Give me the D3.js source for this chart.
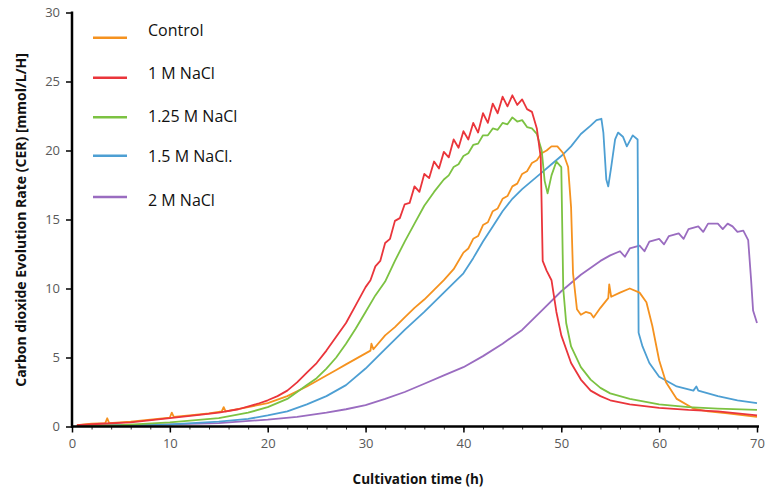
<!DOCTYPE html>
<html>
<head>
<meta charset="utf-8">
<script src="https://d3js.org/d3.v7.min.js"></script>
<style>
  html, body { margin: 0; padding: 0; background: #fff; }
  svg { display: block; font-family: "Open Sans", "Liberation Sans", sans-serif; }
</style>
</head>
<body>
<svg id="chart" width="773" height="493"></svg>
<script>
// ---- data ----
const seriesNames = ['Control', '1 M NaCl', '1.25 M NaCl', '1.5 M NaCl.', '2 M NaCl'];
const seriesColors = ['#f5921f', '#ea353b', '#7cc242', '#4d9fd3', '#9a6cc0'];

const xTicks = [0, 10, 20, 30, 40, 50, 60, 70];
const yTicks = [0, 5, 10, 15, 20, 25, 30];

// [hours, CER]
const control = [
  [0.5, 0.1], [2, 0.2], [3.4, 0.25], [3.6, 0.6], [3.8, 0.25], [6, 0.35], [8, 0.5], [10, 0.65],
  [10.2, 1.0], [10.4, 0.7], [12, 0.8], [14, 0.95], [15.3, 1.1], [15.5, 1.4], [15.7, 1.1],
  [18, 1.4], [20, 1.7], [22, 2.2], [24, 2.9], [26, 3.7], [27, 4.1], [28, 4.5], [29, 4.9],
  [30, 5.3], [30.5, 5.5], [30.6, 6.0], [30.8, 5.6], [32, 6.6], [33, 7.2], [34, 7.9], [35, 8.6],
  [36, 9.2], [37, 9.9], [38, 10.6], [39, 11.4], [40, 12.6], [40.5, 12.9], [41, 13.6], [41.5, 13.8],
  [42, 14.6], [42.5, 14.8], [43, 15.6], [43.5, 15.8], [44, 16.5], [44.5, 16.7], [45, 17.4],
  [45.5, 17.6], [46, 18.3], [46.5, 18.5], [47, 19.1], [47.5, 19.3], [48, 19.8], [48.5, 20.0],
  [49, 20.3], [49.6, 20.3], [50.2, 19.8], [50.7, 18.8], [51, 15.9], [51.2, 11.1], [51.6, 8.5],
  [52, 8.1], [52.5, 8.3], [53, 8.2], [53.3, 7.9], [54, 8.6], [54.8, 9.3], [54.9, 10.3],
  [55.1, 9.4], [56, 9.7], [57, 10.0], [58, 9.7], [58.7, 9.0], [59.3, 7.3], [60, 4.8],
  [60.7, 3.2], [61.8, 2.0], [63.5, 1.3], [65, 1.1], [67, 0.95], [70, 0.7]
];

const nacl1 = [
  [0.5, 0.1], [3, 0.2], [6, 0.3], [10, 0.6], [13, 0.85], [15, 1.0], [17, 1.25], [19, 1.65],
  [20, 1.9], [21, 2.2], [22, 2.6], [23, 3.2], [24, 3.9], [25, 4.6], [26, 5.5], [27, 6.5],
  [28, 7.5], [29, 8.8], [30, 10.1], [30.5, 10.6], [31, 11.6], [31.5, 12.0], [32, 13.3],
  [32.5, 13.6], [33, 14.9], [33.5, 15.1], [34, 16.1], [34.5, 16.2], [35, 17.4], [35.5, 17.0],
  [36, 18.3], [36.5, 18.0], [37, 19.2], [37.5, 18.7], [38, 19.9], [38.5, 19.5], [39, 20.8],
  [39.5, 20.2], [40, 21.4], [40.5, 20.8], [41, 22.0], [41.5, 21.3], [42, 22.7], [42.5, 22.0],
  [43, 23.4], [43.5, 22.7], [44, 23.9], [44.5, 23.2], [45, 24.0], [45.5, 23.3], [46, 23.7],
  [46.5, 23.0], [47, 22.8], [47.5, 21.6], [47.9, 19.5], [48.1, 12.0], [48.5, 11.3],
  [49, 10.6], [49.5, 8.3], [50, 6.6], [51, 4.6], [52, 3.4], [53, 2.6], [54, 2.2], [55, 1.9],
  [57, 1.6], [60, 1.35], [63, 1.2], [66, 1.1], [70, 0.8]
];

const nacl125 = [
  [0.5, 0.05], [5, 0.1], [10, 0.3], [15, 0.6], [18, 1.0], [20, 1.4], [22, 2.0], [23, 2.5],
  [24, 3.0], [25, 3.5], [26, 4.2], [27, 5.0], [28, 6.0], [29, 7.1], [30, 8.3], [31, 9.5],
  [32, 10.5], [33, 12.0], [34, 13.4], [35, 14.7], [36, 16.0], [37, 17.0], [38, 17.9],
  [38.5, 18.2], [39, 18.8], [39.5, 19.0], [40, 19.6], [40.5, 19.8], [41, 20.4], [41.5, 20.5],
  [42, 21.1], [42.5, 21.1], [43, 21.6], [43.5, 21.5], [44, 22.0], [44.5, 21.9], [45, 22.4],
  [45.5, 22.1], [46, 22.2], [46.5, 21.7], [47, 21.6], [47.5, 21.2], [48, 20.0], [48.3, 17.8],
  [48.6, 16.9], [49, 18.2], [49.5, 19.2], [50, 18.8], [50.2, 10.0], [50.5, 7.5], [51, 5.8],
  [52, 4.3], [53, 3.4], [54, 2.8], [55, 2.4], [57, 2.0], [60, 1.6], [63, 1.4], [66, 1.3],
  [70, 1.2]
];

const nacl15 = [
  [0.5, 0.05], [5, 0.1], [10, 0.15], [15, 0.35], [18, 0.55], [20, 0.8], [22, 1.1], [24, 1.6],
  [26, 2.2], [28, 3.0], [30, 4.2], [32, 5.6], [34, 7.0], [36, 8.3], [38, 9.7], [40, 11.1],
  [41, 12.2], [42, 13.4], [43, 14.5], [44, 15.6], [45, 16.5], [46, 17.2], [47, 17.8],
  [48, 18.4], [49, 19.0], [50, 19.6], [51, 20.3], [52, 21.2], [53, 21.8], [53.6, 22.2],
  [54.1, 22.3], [54.3, 21.3], [54.6, 17.9], [54.8, 17.4], [55.1, 18.8], [55.5, 20.8],
  [55.8, 21.3], [56.3, 21.0], [56.7, 20.3], [57.3, 21.1], [57.8, 20.8], [57.9, 6.8],
  [58.3, 5.8], [59, 4.6], [60, 3.6], [61.8, 2.9], [63.5, 2.6], [63.8, 2.9], [64, 2.6],
  [66, 2.2], [68, 1.9], [70, 1.7]
];

const nacl2 = [
  [0.5, 0.05], [5, 0.1], [10, 0.15], [15, 0.25], [20, 0.5], [23, 0.7], [26, 1.0], [28, 1.25],
  [30, 1.55], [32, 2.0], [34, 2.5], [36, 3.1], [38, 3.7], [40, 4.3], [42, 5.1], [44, 6.0],
  [46, 7.0], [48, 8.4], [50, 9.8], [52, 11.0], [54, 12.0], [55, 12.4], [56, 12.7], [56.5, 12.3],
  [57, 12.9], [58, 13.1], [58.5, 12.7], [59, 13.4], [60, 13.6], [60.5, 13.2], [61, 13.8],
  [62, 14.0], [62.5, 13.6], [63, 14.3], [64, 14.5], [64.5, 14.1], [65, 14.7], [66, 14.7],
  [66.5, 14.3], [67, 14.7], [67.5, 14.5], [68, 14.1], [68.6, 14.2], [69.1, 13.5], [69.4, 10.6],
  [69.6, 8.4], [70, 7.5]
];

const seriesData = [control, nacl1, nacl125, nacl15, nacl2];

// ---- layout ----
const svg = d3.select('#chart');
const x = d3.scaleLinear().domain([0, 70]).range([72, 757]);
const y = d3.scaleLinear().domain([0, 30]).range([426.5, 12.5]);

// series lines (2 M first so the others sit on top)
const line = d3.line().x(d => x(d[0])).y(d => y(d[1]));
const order = [4, 3, 0, 2, 1];
svg.append('g')
  .selectAll('path')
  .data(order)
  .join('path')
  .attr('d', i => line(seriesData[i]))
  .attr('fill', 'none')
  .attr('stroke', i => seriesColors[i])
  .attr('stroke-width', 1.8)
  .attr('stroke-linejoin', 'round');

// x axis
const xAxis = svg.append('g').attr('transform', `translate(0,${y(0)})`);
xAxis.call(d3.axisBottom(x).tickValues(d3.range(0, 71, 2)).tickSize(3).tickFormat(''))
  .call(g => g.select('.domain').remove())
  .call(g => g.selectAll('.tick line').attr('stroke', '#333').attr('stroke-width', 1));
xAxis.append('g')
  .call(d3.axisBottom(x).tickValues(xTicks).tickSize(6).tickPadding(6))
  .call(g => g.select('.domain').remove())
  .call(g => g.selectAll('.tick line').attr('stroke', '#000').attr('stroke-width', 1.5))
  .call(g => g.selectAll('.tick text').attr('fill', '#595959').attr('font-size', 13)
    .attr('font-family', '"Open Sans", sans-serif'));
xAxis.append('line')
  .attr('x1', x(0) - 1).attr('x2', x(70) + 2)
  .attr('stroke', '#000').attr('stroke-width', 2.5);

// y axis
const yAxis = svg.append('g').attr('transform', `translate(${x(0)},0)`);
yAxis.call(d3.axisLeft(y).tickValues(yTicks).tickSize(6).tickPadding(6))
  .call(g => g.select('.domain').remove())
  .call(g => g.selectAll('.tick line').attr('stroke', '#000').attr('stroke-width', 1.5))
  .call(g => g.selectAll('.tick text').attr('fill', '#595959').attr('font-size', 13)
    .attr('font-family', '"Open Sans", sans-serif'));
yAxis.append('line')
  .attr('y1', y(30) - 1).attr('y2', y(0) + 1)
  .attr('stroke', '#000').attr('stroke-width', 2.5);

// axis titles
svg.append('text')
  .attr('x', 418).attr('y', 484)
  .attr('text-anchor', 'middle')
  .attr('font-size', 13.5).attr('font-weight', 'bold').attr('fill', '#111')
  .text('Cultivation time (h)');

svg.append('text')
  .attr('transform', 'translate(26,220) rotate(-90)')
  .attr('text-anchor', 'middle')
  .attr('font-size', 14).attr('font-weight', 'bold').attr('fill', '#111')
  .text('Carbon dioxide Evolution Rate (CER) [mmol/L/H]');

// legend: swatch and label sit at slightly different heights in the original
const swatchY = [37.7, 77.7, 117.3, 155.7, 197];
const labelY = [30.7, 73.3, 116.7, 156.7, 200];
const legend = svg.append('g')
  .selectAll('g')
  .data(seriesNames)
  .join('g');
legend.append('line')
  .attr('x1', 93).attr('x2', 127)
  .attr('y1', (d, i) => swatchY[i]).attr('y2', (d, i) => swatchY[i])
  .attr('stroke', (d, i) => seriesColors[i])
  .attr('stroke-width', 2.5);
legend.append('text')
  .attr('x', 148).attr('y', (d, i) => labelY[i]).attr('dy', '0.35em')
  .attr('font-size', 16).attr('fill', '#111')
  .text(d => d);
</script>
</body>
</html>
